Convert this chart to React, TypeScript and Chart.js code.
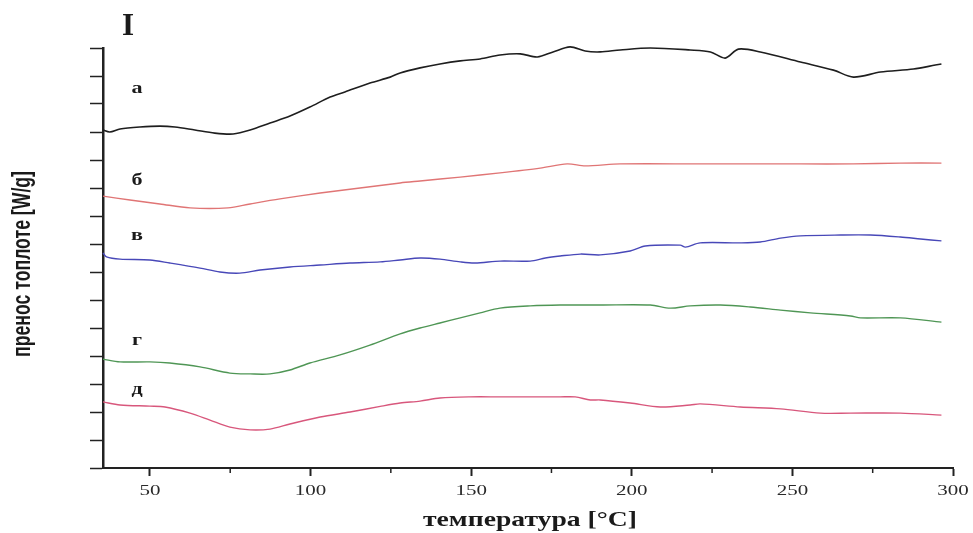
import React, { useEffect, useRef } from "react";
import { Chart, registerables } from "chart.js";

Chart.register(...registerables);

// ---- data (temperature in °C, heat flow in offset units) ----
const tempA = [35.4, 37.5, 40.7, 46.9, 53.1, 57.8, 64.0, 70.2, 75.9, 81.2, 87.4, 93.6, 99.8, 106.1, 110.7, 118.5, 124.8, 127.9, 134.1, 140.3, 146.6, 152.8, 159.0, 165.3, 170.6, 175.5, 180.8, 185.5, 190.2, 196.4, 205.8, 218.2, 224.5, 229.1, 233.2, 240.0, 252.5, 262.8, 269.0, 277.4, 287.7, 294.5, 296.4];
const flowA = [12.07, 12.0, 12.11, 12.18, 12.21, 12.18, 12.07, 11.96, 11.93, 12.07, 12.32, 12.57, 12.89, 13.25, 13.43, 13.75, 13.96, 14.11, 14.29, 14.43, 14.54, 14.61, 14.75, 14.79, 14.68, 14.86, 15.04, 14.89, 14.86, 14.93, 15.0, 14.93, 14.86, 14.64, 14.96, 14.86, 14.5, 14.21, 13.96, 14.14, 14.25, 14.39, 14.43];

const tempB = [35.4, 43.8, 53.1, 62.5, 74.3, 81.2, 90.5, 103.0, 115.4, 127.9, 134.1, 146.6, 159.0, 171.5, 179.9, 185.5, 196.4, 221.3, 252.5, 269.0, 283.6, 296.4];
const flowB = [9.71, 9.57, 9.43, 9.29, 9.29, 9.43, 9.61, 9.82, 10.0, 10.18, 10.25, 10.39, 10.54, 10.71, 10.86, 10.79, 10.86, 10.86, 10.86, 10.86, 10.89, 10.89];

const tempV = [35.4, 36.5, 40.7, 50.0, 56.2, 65.6, 71.8, 78.0, 84.3, 93.6, 103.0, 112.3, 121.7, 127.9, 134.1, 140.3, 146.6, 151.2, 159.0, 168.4, 173.1, 177.7, 184.0, 190.2, 199.5, 204.2, 215.1, 216.7, 221.3, 233.8, 240.0, 246.3, 252.5, 265.0, 274.3, 283.6, 289.9, 296.4];
const flowV = [7.68, 7.54, 7.46, 7.43, 7.32, 7.14, 7.0, 6.96, 7.07, 7.18, 7.25, 7.32, 7.36, 7.43, 7.5, 7.46, 7.36, 7.32, 7.39, 7.39, 7.5, 7.57, 7.64, 7.61, 7.75, 7.93, 7.96, 7.89, 8.04, 8.04, 8.07, 8.21, 8.29, 8.32, 8.32, 8.25, 8.18, 8.11];

const tempG = [35.4, 40.7, 50.0, 56.2, 65.6, 74.9, 81.2, 87.4, 93.6, 99.8, 109.2, 118.5, 127.9, 134.1, 140.3, 146.6, 152.8, 159.0, 168.4, 177.7, 190.2, 205.8, 212.0, 218.2, 227.6, 236.9, 246.3, 255.6, 268.1, 271.2, 283.6, 296.4];
const flowG = [3.89, 3.79, 3.79, 3.75, 3.61, 3.39, 3.36, 3.36, 3.5, 3.75, 4.04, 4.39, 4.79, 5.0, 5.18, 5.36, 5.54, 5.71, 5.79, 5.82, 5.82, 5.82, 5.71, 5.79, 5.82, 5.75, 5.64, 5.54, 5.43, 5.36, 5.36, 5.21];

const tempD = [35.4, 40.7, 50.0, 54.7, 62.5, 68.7, 74.9, 81.2, 87.4, 93.6, 103.0, 112.3, 121.7, 127.9, 134.1, 140.3, 149.6, 159.0, 168.4, 177.7, 182.4, 187.1, 190.2, 199.5, 208.9, 218.2, 221.3, 233.8, 246.3, 258.7, 268.1, 283.6, 296.4];
const flowD = [2.36, 2.25, 2.21, 2.18, 1.96, 1.71, 1.46, 1.36, 1.39, 1.57, 1.82, 2.0, 2.2, 2.32, 2.39, 2.5, 2.54, 2.54, 2.54, 2.54, 2.54, 2.43, 2.43, 2.32, 2.18, 2.25, 2.29, 2.18, 2.11, 1.96, 1.96, 1.96, 1.89];

const curveNames = ["а", "б", "в", "г", "д"];
const curveColors = ["#1e1e1e", "#e07575", "#4848b8", "#4f9655", "#d8577c"];
const labelTemp = [46, 46, 46, 46, 46];
const labelFlow = [13.39, 10.11, 8.14, 4.39, 2.64];

const xMajorTicks = [50, 100, 150, 200, 250, 300];
const xMinorTicks = [75, 125, 175, 225, 275];
const yTicks = [0, 1, 2, 3, 4, 5, 6, 7, 8, 9, 10, 11, 12, 13, 14, 15];

const chartTitle = "I";
const xTitle = "температура [°C]";
const yTitle = "пренос топлоте [W/g]";

const series = [
  [tempA, flowA],
  [tempB, flowB],
  [tempV, flowV],
  [tempG, flowG],
  [tempD, flowD],
];

function drawFitText(ctx: CanvasRenderingContext2D, text: string, x: number, y: number, font: string, width: number, rot = 0) {
  ctx.save();
  ctx.font = font;
  ctx.translate(x, y);
  if (rot) ctx.rotate(rot);
  const w = ctx.measureText(text).width;
  ctx.scale(width / w, 1);
  ctx.textAlign = "center";
  ctx.textBaseline = "alphabetic";
  ctx.fillText(text, 0, 0);
  ctx.restore();
}

const textPlugin = {
  id: "textPlugin",
  afterDraw(chart: any) {
    const ctx: CanvasRenderingContext2D = chart.ctx;
    const xs = chart.scales.x;
    const ys = chart.scales.y;
    ctx.save();
    ctx.fillStyle = "#1a1a1a";
    // minor x ticks
    ctx.strokeStyle = "#222";
    ctx.lineWidth = 1.5;
    const bottom = chart.chartArea.bottom;
    xMinorTicks.forEach((v) => {
      const px = xs.getPixelForValue(v);
      ctx.beginPath();
      ctx.moveTo(px, bottom);
      ctx.lineTo(px, bottom + 5);
      ctx.stroke();
    });
    // x tick labels (wide serif digits)
    xMajorTicks.forEach((v) => {
      const px = xs.getPixelForValue(v);
      ctx.save();
      ctx.fillStyle = "#2a2a2a";
      ctx.font = "15px 'Liberation Serif', serif";
      ctx.translate(px, 495);
      ctx.scale(1.4, 1);
      ctx.textAlign = "center";
      ctx.textBaseline = "alphabetic";
      ctx.fillText(String(v), 0, 0);
      ctx.restore();
    });
    // title
    ctx.font = "bold 31px 'Liberation Serif', serif";
    ctx.textAlign = "center";
    ctx.textBaseline = "alphabetic";
    ctx.fillText(chartTitle, 128, 35);
    // curve labels
    curveNames.forEach((n, i) => {
      const px = xs.getPixelForValue(labelTemp[i]);
      const py = ys.getPixelForValue(labelFlow[i]);
      ctx.save();
      ctx.font = "bold 17px 'Liberation Serif', serif";
      ctx.translate(px, py);
      ctx.scale(1.3, 1);
      ctx.textAlign = "center";
      ctx.fillText(n, 0, 0);
      ctx.restore();
    });
    // axis titles
    drawFitText(ctx, xTitle, 530, 526, "bold 21px 'Liberation Serif', serif", 214);
    drawFitText(ctx, yTitle, 30, 264, "bold 25px 'Liberation Sans Narrow', 'Liberation Sans', sans-serif", 186, -Math.PI / 2);
    ctx.restore();
  },
};

export default function App() {
  const ref = useRef<HTMLCanvasElement | null>(null);

  useEffect(() => {
    if (!ref.current) return;
    const chart = new Chart(ref.current, {
      type: "line",
      data: {
        datasets: series.map(([t, f], i) => ({
          label: curveNames[i],
          data: t.map((x, k) => ({ x, y: f[k] })),
          borderColor: curveColors[i],
          backgroundColor: curveColors[i],
          borderWidth: i === 0 ? 1.6 : 1.4,
          pointRadius: 0,
          tension: 0.3,
          fill: false,
          clip: 6,
        })),
      },
      options: {
        animation: false,
        responsive: false,
        maintainAspectRatio: false,
        layout: { padding: { top: 48, right: 20, left: 0, bottom: 0 } },
        plugins: { legend: { display: false }, tooltip: { enabled: false } },
        scales: {
          x: {
            type: "linear",
            min: 35.4,
            max: 300,
            afterBuildTicks: (s: any) => {
              s.ticks = xMajorTicks.map((v) => ({ value: v }));
            },
            afterFit: (s: any) => {
              s.height = 65;
            },
            border: { display: true, color: "#222", width: 2 },
            grid: { drawOnChartArea: false, drawTicks: true, tickLength: 8, tickColor: "#222", tickWidth: 2 },
            ticks: { display: false },
          },
          y: {
            type: "linear",
            min: 0,
            max: 15,
            afterBuildTicks: (s: any) => {
              s.ticks = yTicks.map((v) => ({ value: v }));
            },
            afterFit: (s: any) => {
              s.width = 103;
            },
            border: { display: true, color: "#222", width: 2.5 },
            grid: { drawOnChartArea: false, drawTicks: true, tickLength: 13, tickColor: "#222", tickWidth: 1.5 },
            ticks: { display: false },
          },
        },
      },
      plugins: [textPlugin],
    } as any);
    return () => chart.destroy();
  }, []);

  return (
    <div style={{ position: "fixed", left: 0, top: 0, width: 973, height: 533, background: "#fff" }}>
      <canvas ref={ref} width={973} height={533} style={{ display: "block", width: 973, height: 533 }} />
    </div>
  );
}
